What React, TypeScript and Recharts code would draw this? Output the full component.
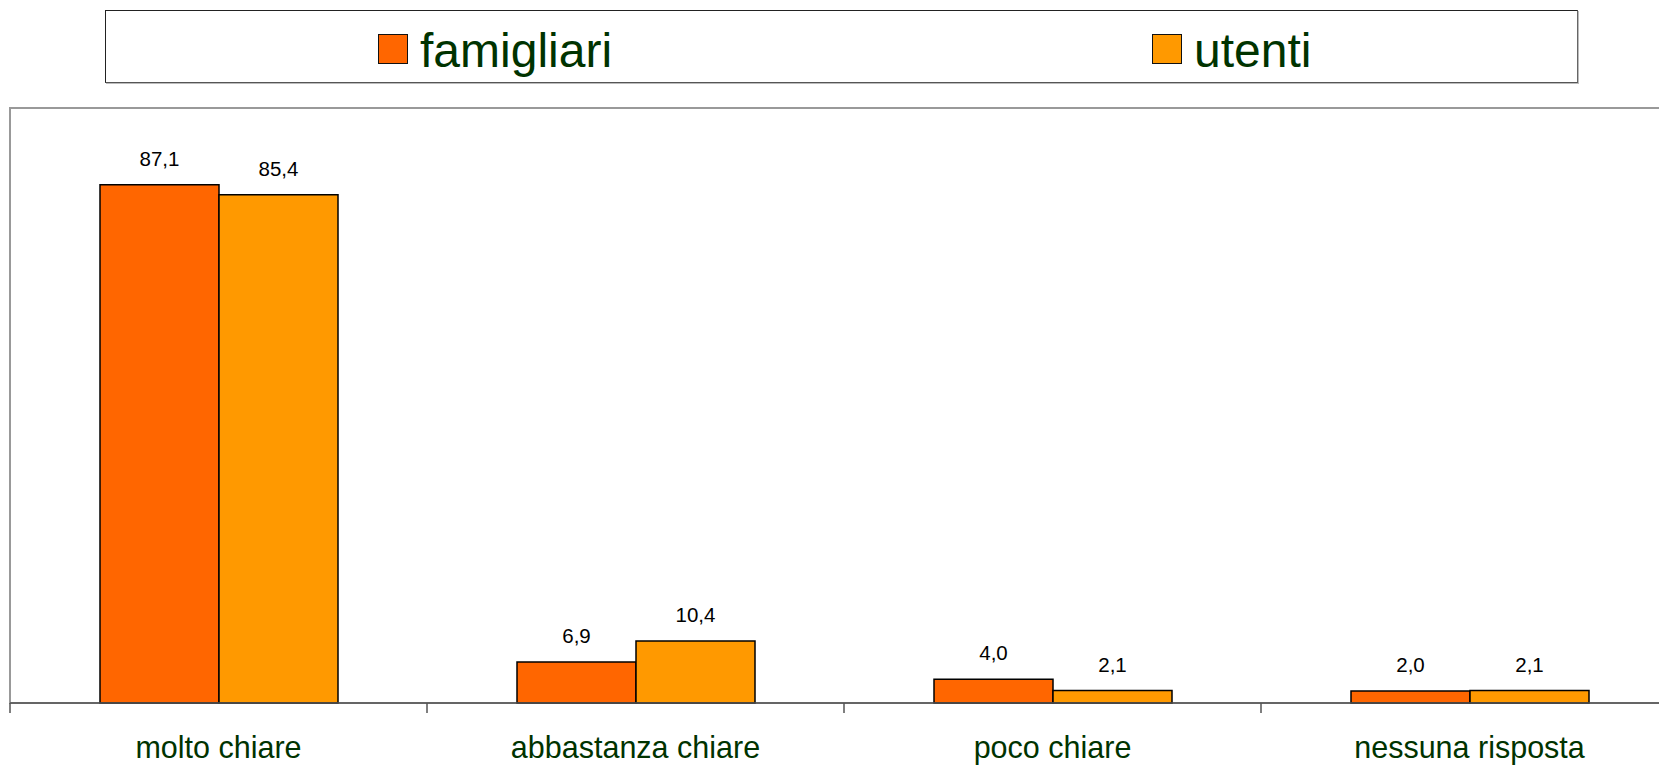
import { Bar, BarChart, LabelList, Legend, ReferenceArea, XAxis, YAxis } from "recharts";

const categories = ["molto chiare", "abbastanza chiare", "poco chiare", "nessuna risposta"];
const famigliari = [87.1, 6.9, 4.0, 2.0];
const utenti = [85.4, 10.4, 2.1, 2.1];
const series = [
  { key: "famigliari", color: "#ff6600" },
  { key: "utenti", color: "#ff9900" },
];

const data = categories.map((name, i) => ({ name, famigliari: famigliari[i], utenti: utenti[i] }));
const font = "'Liberation Sans', Arial, sans-serif";
const green = "#003300";
const fmt = (v: unknown) => Number(v).toFixed(1).replace(".", ",");

function CategoryTick(props: any) {
  const { x, y, payload } = props;
  const half = payload.offset ?? props.width / categories.length / 2;
  return <g>
    <line x1={x - half} x2={x - half} y1={y} y2={y + 10} stroke="#555" strokeWidth={1.5} />
    <text x={x} y={y + 55} textAnchor="middle" fontSize={30.5} fill={green} fontFamily={font}>{payload.value}</text>
  </g>;
}

function LegendBox() {
  const item = (label: string, color: string, left: number) => <div style={{ position: "absolute", left, top: 21, display: "flex", alignItems: "center" }}>
    <div style={{ width: 28, height: 28, background: color, border: "1.5px solid #111" }} />
    <span style={{ marginLeft: 12, position: "relative", top: 2, fontSize: 48, lineHeight: "34px", color: green, fontFamily: font, whiteSpace: "nowrap" }}>{label}</span>
  </div>;
  return <div style={{ position: "relative", width: "100%", height: "100%" }}>
    {item(series[0].key, series[0].color, 272)}
    {item(series[1].key, series[1].color, 1046)}
  </div>;
}

export default function App() {
  return <div style={{ position: "absolute", left: 0, top: 0, width: 1659, height: 765, overflow: "hidden", background: "#fff" }}>
    <BarChart width={1678} height={765} data={data} margin={{ top: 35, right: 0, left: 10, bottom: 0 }} barGap={0} barSize={119}>
      <Legend verticalAlign="top" content={<LegendBox />} wrapperStyle={{ top: 10, left: 105, width: 1473, height: 73, boxSizing: "border-box", border: "1px solid #222", borderRightColor: "#666", borderBottomColor: "#555", boxShadow: "1px 1px 0 #bbb", background: "#fff" }} />
      <XAxis dataKey="name" height={62} tickSize={0} tickMargin={0} tickLine={false} axisLine={{ stroke: "#555", strokeWidth: 1.5 }} tick={<CategoryTick />} interval={0} />
      <YAxis hide domain={[0, 100]} />
      <ReferenceArea x1={categories[0]} x2={categories[categories.length - 1]} y1={0} y2={100} fill="none" stroke="#999" strokeWidth={2} ifOverflow="visible" />
      {series.map((s) => <Bar key={s.key} dataKey={s.key} fill={s.color} stroke="#000" strokeWidth={1.5} isAnimationActive={false}>
        <LabelList dataKey={s.key} position="top" offset={19} formatter={fmt} style={{ fontSize: 20.5, fill: "#000", fontFamily: font }} />
      </Bar>)}
    </BarChart>
  </div>;
}
